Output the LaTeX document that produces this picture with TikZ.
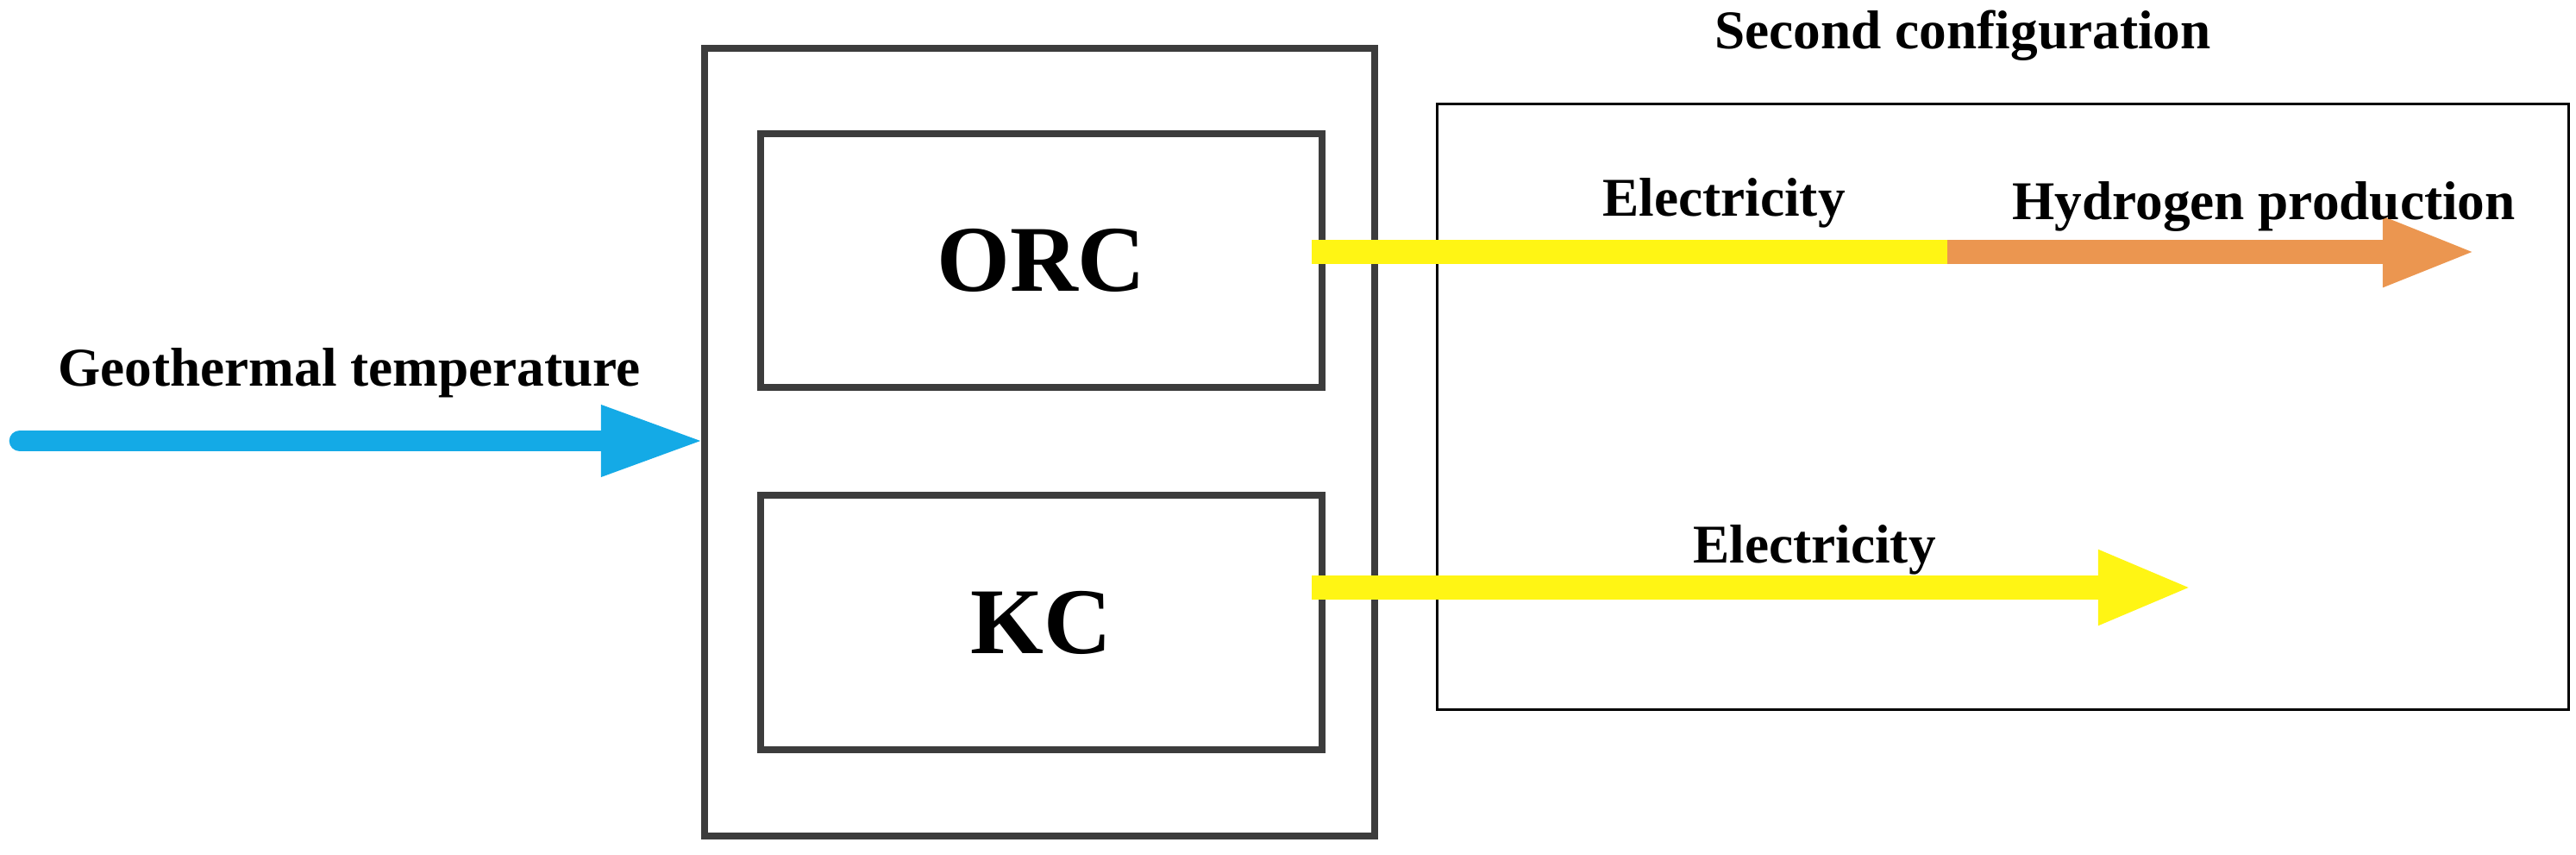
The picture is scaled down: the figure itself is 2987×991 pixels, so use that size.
\documentclass[tikz,border=0pt]{standalone}
\usepackage{fontspec}
\setmainfont{Liberation Serif}
\usetikzlibrary{arrows.meta}
\definecolor{geo}{RGB}{20,170,230}
\definecolor{elec}{RGB}{255,245,20}
\definecolor{hyd}{RGB}{235,150,80}
\definecolor{frame}{RGB}{60,60,60}
\tikzset{
 blk/.style={draw=frame,line width=2.4pt},
 lbl/.style={font=\bfseries\fontsize{18}{21}\selectfont},
 big/.style={font=\bfseries\fontsize{31}{36}\selectfont},
 flow/.style={line width=8pt,-{Triangle[length=1.1cm,width=0.76cm]}}
}
\begin{document}
\begin{tikzpicture}[x=0.01cm,y=-0.01cm]
\useasboundingbox (0,0) rectangle (2987,991);
\draw[blk] (817,56) rectangle (1594,969);
\node[blk,minimum width=6.51cm,minimum height=2.94cm,big] (orc) at (1207.5,302) {ORC};
\node[blk,minimum width=6.51cm,minimum height=2.95cm,big] (kc) at (1207.5,721.5) {KC};
\node[draw=black,line width=0.9pt,minimum width=13.11cm,minimum height=7.01cm] (sec) at (2322.5,471.5) {};
\node[lbl] (st) at (2276,41) {Second configuration};
\coordinate (gs) at (23,511);
\coordinate (ge) at (817,511);
\draw[flow,geo,line width=7pt,line cap=round,-{Triangle[length=1.2cm,width=0.76cm]}] (gs) -- (ge);
\node[lbl] (gt) at (405,432) {Geothermal temperature};
\coordinate (os) at (1521,292);
\coordinate (e1) at (2258,292);
\coordinate (h1) at (2873,292);
\draw[elec,line width=8pt] (os) -- (e1);
\draw[flow,hyd,-{Triangle[length=1.1cm,width=0.73cm]}] (e1) -- (h1);
\node[lbl] (el1) at (1999,235) {Electricity};
\node[lbl] (hp) at (2625,240) {Hydrogen production};
\coordinate (ks) at (1521,681);
\coordinate (e2) at (2543,681);
\draw[flow,elec,-{Triangle[length=1.1cm,width=0.79cm]}] (ks) -- (e2);
\node[lbl] (el2) at (2104,637) {Electricity};
\end{tikzpicture}
\end{document}
